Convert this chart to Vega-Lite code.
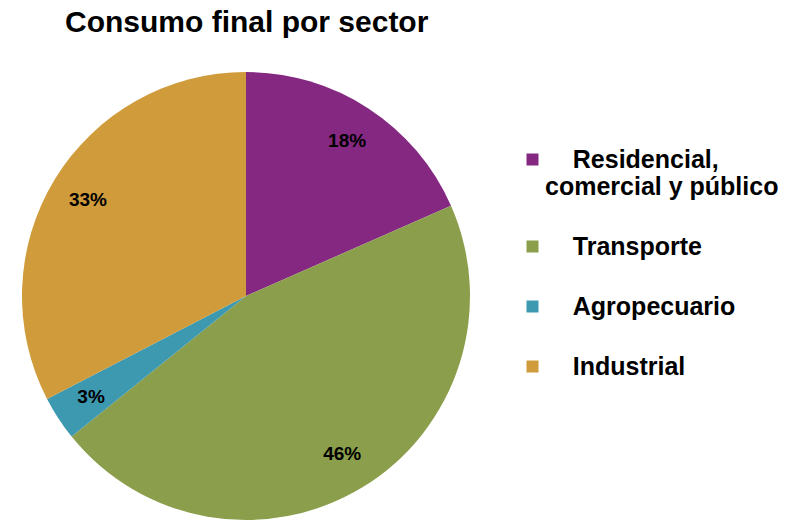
{
  "$schema": "https://vega.github.io/schema/vega-lite/v6.json",
  "autosize": {"type": "none"},
  "padding": {"left": 0, "top": 72, "right": 298, "bottom": 3},
  "width": 492,
  "height": 448,
  "background": "white",
  "title": {
    "text": "Consumo final por sector",
    "anchor": "start",
    "dx": 65,
    "font": "Liberation Sans",
    "fontSize": 30,
    "fontWeight": "bold",
    "color": "#000000",
    "offset": 34
  },
  "data": {
    "values": [
      {"sector": "Residencial, comercial y público", "valor": 0.184},
      {"sector": "Transporte", "valor": 0.458},
      {"sector": "Agropecuario", "valor": 0.032},
      {"sector": "Industrial", "valor": 0.326}
    ]
  },
  "transform": [
    {"calculate": "indexof(['Residencial, comercial y público', 'Transporte', 'Agropecuario', 'Industrial'], datum.sector)", "as": "orden"}
  ],
  "encoding": {
    "theta": {"field": "valor", "type": "quantitative", "stack": true},
    "order": {"field": "orden", "type": "quantitative", "sort": "ascending"},
    "color": {
      "field": "sector",
      "type": "nominal",
      "sort": ["Residencial, comercial y público", "Transporte", "Agropecuario", "Industrial"],
      "scale": {
        "domain": ["Residencial, comercial y público", "Transporte", "Agropecuario", "Industrial"],
        "range": ["#852882", "#8A9E4B", "#3D99B0", "#CF9B3B"]
      },
      "legend": {
        "orient": "none",
        "legendX": 520,
        "legendY": 75,
        "title": null,
        "padding": 0,
        "symbolType": "square",
        "symbolSize": 144,
        "symbolStrokeWidth": 0,
        "labelFont": "Liberation Sans",
        "labelFontSize": 25,
        "labelFontWeight": "bold",
        "labelColor": "#000000",
        "labelOffset": 0,
        "labelLimit": 400,
        "rowPadding": 34,
        "labelExpr": "datum.label == 'Residencial, comercial y público' ? ['\u200b\u00a0\u00a0\u00a0\u00a0Residencial,', 'comercial y público'] : '\u200b\u00a0\u00a0\u00a0\u00a0' + datum.label"
      }
    }
  },
  "layer": [
    {
      "mark": {"type": "arc", "outerRadius": 224}
    },
    {
      "mark": {"type": "text", "radius": 185, "font": "Liberation Sans", "fontSize": 19, "fontWeight": "bold"},
      "encoding": {
        "color": {"value": "#000000"},
        "text": {"field": "valor", "type": "quantitative", "format": ".0%"}
      }
    }
  ]
}
